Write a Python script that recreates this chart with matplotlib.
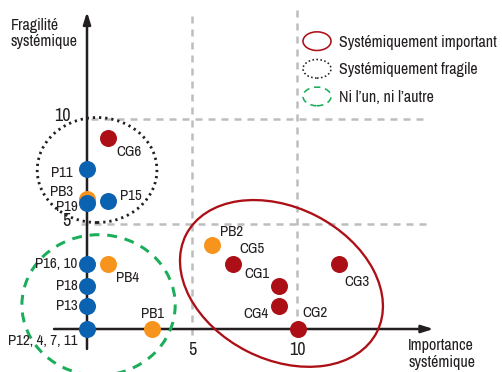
import matplotlib
matplotlib.use("Agg")
import matplotlib.pyplot as plt
from matplotlib.patches import Ellipse
from matplotlib.legend_handler import HandlerPatch

plt.rcParams['font.family'] = ['Archivo Narrow', 'DejaVu Sans']

# --- data ---
blue_labels = ["P11", "P19", "P15", "P16, 10", "P18", "P13", "P12, 4, 7, 11"]
blue_x = [0, 0, 1.0, 0, 0, 0, 0]
blue_y = [7.6, 6.0, 6.1, 3.1, 2.05, 1.1, 0]

orange_labels = ["PB3", "PB4", "PB1", "PB2"]
orange_x = [0, 1.0, 3.1, 5.95]
orange_y = [6.2, 3.1, 0, 4.0]

red_labels = ["CG6", "CG5", "CG1", "CG4", "CG2", "CG3"]
red_x = [1.0, 6.95, 9.14, 9.14, 10.05, 12.0]
red_y = [9.1, 3.1, 2.05, 1.1, 0, 3.1]

ticks = [5, 10]
legend_labels = ["Systémiquement important", "Systémiquement fragile", "Ni l\u2019un, ni l\u2019autre"]

# label offsets in points (dpi=72 so 1pt = 1px): (dx, dy, ha)
label_pos = {
    "CG6": (8, -14, "left"), "P11": (-14, -4, "right"), "PB3": (-14, 7, "right"),
    "P19": (-9, -4, "right"), "P15": (12, 5, "left"), "P16, 10": (-10, 0, "right"),
    "PB4": (8, -14, "left"), "P18": (-9, 0, "right"), "P13": (-9, 0, "right"),
    "P12, 4, 7, 11": (-10, -12, "right"), "PB1": (0, 15, "center"),
    "PB2": (8, 13, "left"), "CG5": (6, 15, "left"), "CG1": (-9, 12, "right"),
    "CG4": (-10, -8, "right"), "CG2": (4, 16, "left"), "CG3": (5, -18, "left"),
}

RED = "#AD0F17"
BLUE = "#0B62B0"
ORANGE = "#F7941D"
GREEN = "#1AAE5A"
GREY = "#BDBDBD"
TXT = "#231F20"


class HandlerEllipse(HandlerPatch):
    def create_artists(self, legend, orig_handle, xdescent, ydescent,
                       width, height, fontsize, trans):
        center = (0.5 * width - xdescent, 0.5 * height - ydescent)
        p = Ellipse(xy=center, width=width, height=height * 1.3)
        self.update_prop(p, orig_handle, legend)
        p.set_transform(trans)
        return [p]


fig = plt.figure(figsize=(502 / 72, 372 / 72), dpi=72)
ax = fig.add_axes([0, 0, 1, 1])
ax.set_xlim(-87 / 21, (502 - 87) / 21)
ax.set_ylim(-(372 - 329) / 21, 329 / 21)
ax.axis("off")

# dashed reference lines
grid_kw = dict(color=GREY, lw=2.5, linestyle=(0, (2.8, 2.4)), zorder=1)
ax.plot([5, 5], [-0.3, 15.2], **grid_kw)
ax.plot([10, 10], [0, 15.2], **grid_kw)
ax.plot([0.2, 16.3], [10, 10], **grid_kw)
ax.plot([-0.3, 16.3], [5, 5], **grid_kw)

# axes with arrows
arrow_kw = dict(arrowstyle="-|>,head_length=0.7,head_width=0.22", lw=2.5,
                color=TXT, shrinkA=0, shrinkB=0, mutation_scale=14)
ax.annotate("", xy=(16.5, 0), xytext=(-1.57, 0), arrowprops=arrow_kw, zorder=2)
ax.annotate("", xy=(0, 15.1), xytext=(0, -0.95), arrowprops=arrow_kw, zorder=2)

# group ellipses
e_red = Ellipse((9.26, 2.17), 10.2, 7.24, angle=-27, fill=False, ec=RED, lw=2.3, zorder=3)
e_blk = Ellipse((0.48, 7.57), 5.7, 5.0, fill=False, ec=TXT, lw=2.8,
                linestyle=(0, (0.8, 1.4)), zorder=3)
e_grn = Ellipse((0.55, 1.14), 7.3, 6.7, fill=False, ec=GREEN, lw=3,
                linestyle=(0, (3.3, 2.6)), zorder=3)
for e in (e_red, e_blk, e_grn):
    e.set_clip_on(False)
    ax.add_patch(e)

# points
ax.scatter(orange_x, orange_y, s=17 ** 2, color=ORANGE, lw=0, zorder=4)
ax.scatter(blue_x, blue_y, s=17 ** 2, color=BLUE, lw=0, zorder=5)
ax.scatter(red_x, red_y, s=17 ** 2, color=RED, lw=0, zorder=5)

for labels, xs, ys in ((blue_labels, blue_x, blue_y),
                       (orange_labels, orange_x, orange_y),
                       (red_labels, red_x, red_y)):
    for lab, x, y in zip(labels, xs, ys):
        dx, dy, ha = label_pos[lab]
        ax.annotate(lab, (x, y), xytext=(dx, dy), textcoords="offset points",
                    ha=ha, va="center", fontsize=15, color=TXT, zorder=6)

# tick labels
for t in ticks:
    ax.text(t, -1.0, str(t), ha="center", va="center", fontsize=18, color=TXT)
    ax.text(-0.8, t + 0.15, str(t), ha="right", va="center", fontsize=18, color=TXT)

# axis titles
ax.text(-3.62, 14.8, "Fragilité\nsystémique", ha="left", va="top",
        fontsize=16, color=TXT, linespacing=1.1)
ax.text(15.29, -0.45, "Importance\nsystémique", ha="left", va="top",
        fontsize=16, color=TXT, linespacing=1.1)

# legend
handles = [
    Ellipse((0, 0), 1, 1, fill=False, ec=RED, lw=1.6),
    Ellipse((0, 0), 1, 1, fill=False, ec=TXT, lw=1.6, linestyle=(0, (1, 1.5))),
    Ellipse((0, 0), 1, 1, fill=False, ec=GREEN, lw=1.6, linestyle=(0, (4, 3))),
]
leg = ax.legend(handles, legend_labels, handler_map={Ellipse: HandlerEllipse()},
                loc="upper left", bbox_to_anchor=(303 / 502, 1 - 34 / 372),
                bbox_transform=fig.transFigure, frameon=False, fontsize=16,
                handlelength=1.75, handleheight=1.0, handletextpad=0.5,
                labelspacing=0.75, borderpad=0, borderaxespad=0)
for txt in leg.get_texts():
    txt.set_color(TXT)

fig.savefig("out.png", dpi=72)
